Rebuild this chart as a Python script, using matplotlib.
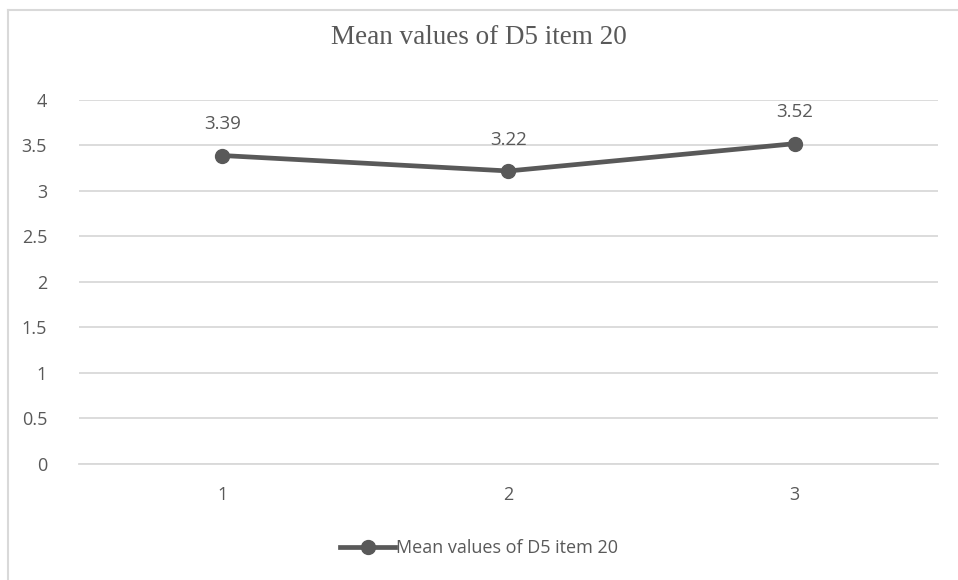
import matplotlib
matplotlib.use("Agg")
import matplotlib.pyplot as plt
from matplotlib.lines import Line2D

categories = [1, 2, 3]
values = [3.39, 3.22, 3.52]
series_name = "Mean values of D5 item 20"
title = "Mean values of D5 item 20"
yticks = [0, 0.5, 1, 1.5, 2, 2.5, 3, 3.5, 4]

line_color = "#595959"
text_color = "#595959"
grid_color = "#d9d9d9"
label_font = "Open Sans"

fig = plt.figure(figsize=(9.58, 5.8), dpi=100)
ax = fig.add_axes([0.0825, 0.2, 0.8965, 0.6276])

x = list(range(len(categories)))
ax.plot(x, values, color=line_color, linewidth=3.4, marker="o",
        markersize=10, zorder=3, solid_capstyle="round")

for xi, v in zip(x, values):
    ax.annotate(f"{v:.2f}", (xi, v), xytext=(0, 22.5), textcoords="offset points",
                ha="center", va="center", fontsize=13.5, color=text_color,
                family=label_font)

ax.set_xlim(-0.5, len(categories) - 0.5)
ax.set_ylim(0, 4)
ax.set_yticks(yticks)
ax.set_yticklabels([f"{t:g}" for t in yticks], family=label_font, fontsize=13, color=text_color)
ax.set_xticks(x)
ax.set_xticklabels([str(c) for c in categories], family=label_font, fontsize=13, color=text_color)
ax.tick_params(axis="x", length=0, pad=16)
ax.tick_params(axis="y", length=0, pad=23)
ax.yaxis.grid(True, color=grid_color, linewidth=1.3)
ax.set_axisbelow(True)
for s in ["top", "right", "left"]:
    ax.spines[s].set_visible(False)
ax.spines["bottom"].set_color(grid_color)
ax.spines["bottom"].set_linewidth(1.3)

fig.text(0.5, 1 - 38 / 580, title, ha="center", va="center",
         family="Liberation Serif", fontsize=19.5, color=text_color)

handle = Line2D([0], [0], color=line_color, linewidth=3.4, marker="o", markersize=10)
fig.legend([handle], [series_name], loc="center", bbox_to_anchor=(0.5, 1 - 548 / 580),
           frameon=False, prop={"family": label_font, "size": 13},
           labelcolor=text_color, handlelength=3.0, handletextpad=0.05)

# chart frame
fig.add_artist(Line2D([8 / 958, 8 / 958], [0, 1 - 10 / 580], color=grid_color, linewidth=1.5))
fig.add_artist(Line2D([8 / 958, 1], [1 - 10 / 580, 1 - 10 / 580], color=grid_color, linewidth=1.5))

fig.savefig("out.png", dpi=100, facecolor="white")
